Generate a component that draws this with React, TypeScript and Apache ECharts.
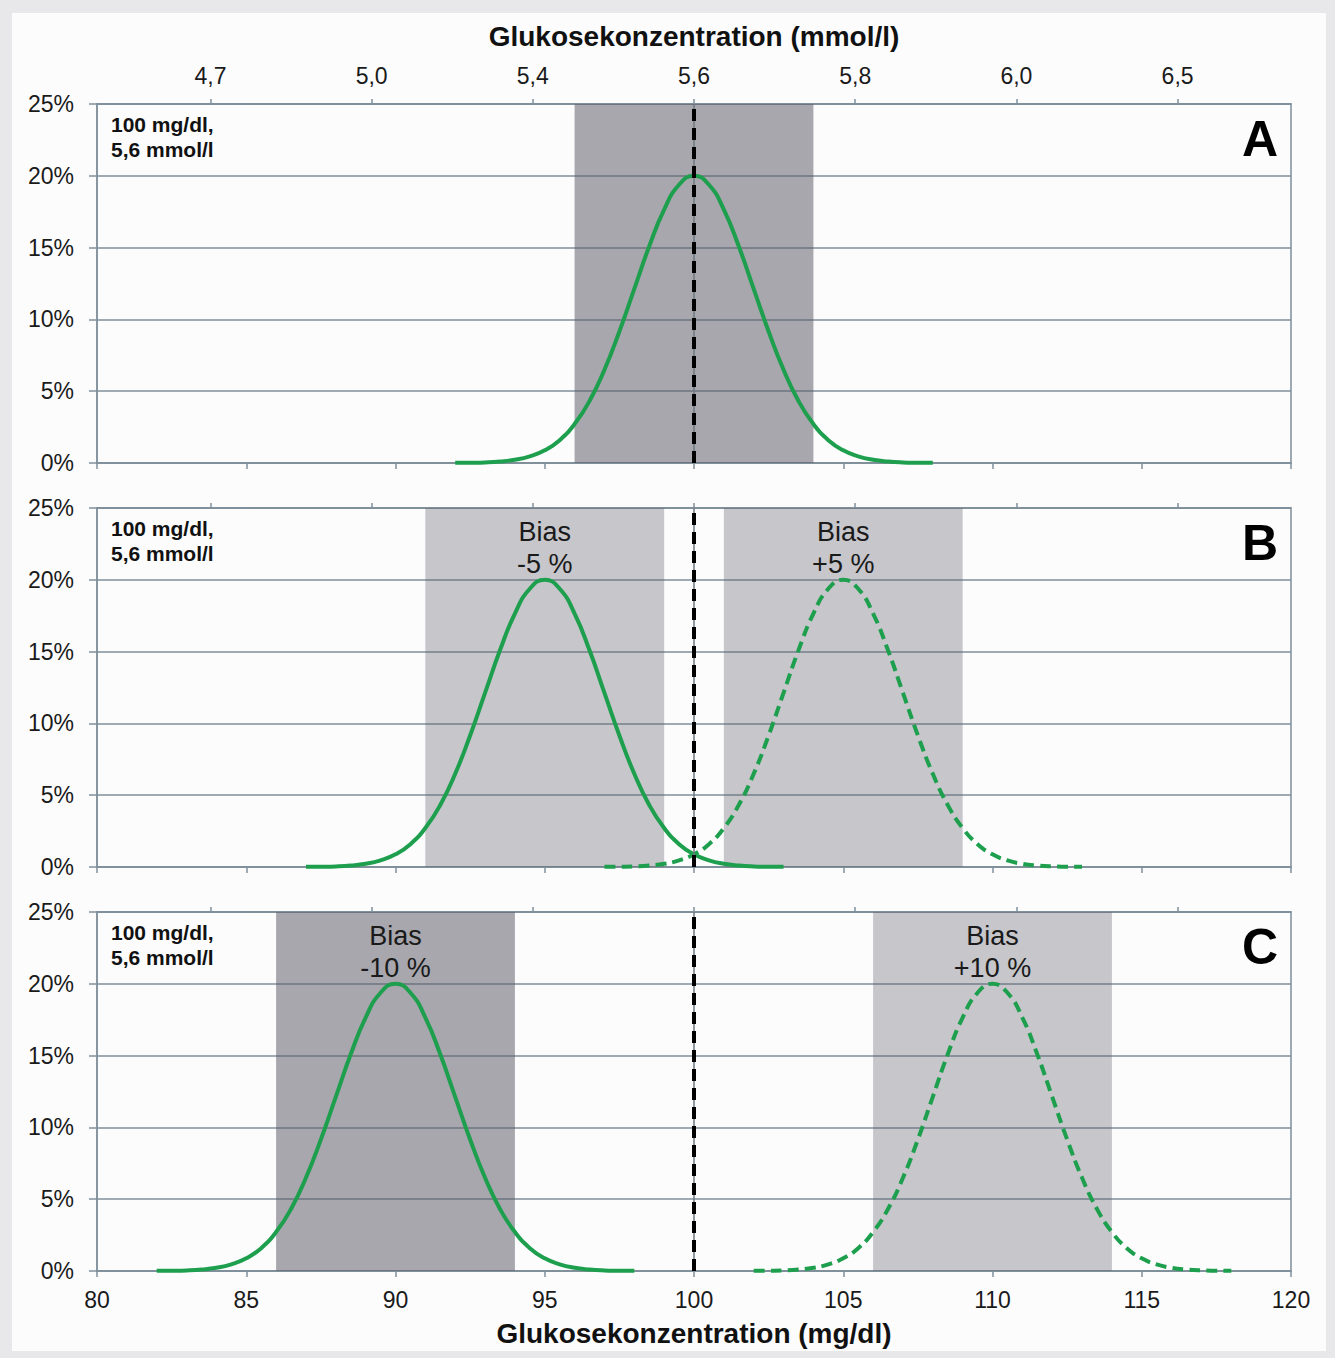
import React, { useEffect, useRef } from "react";
import * as echarts from "echarts";

// ---- data ----
const xMin = 80;
const xMax = 120;
const xInterval = 5;
const yMax = 25;
const yInterval = 5;

const topTickPositions = [83.8, 89.2, 94.6, 100, 105.4, 110.8, 116.2];
const topTickLabels = ["4,7", "5,0", "5,4", "5,6", "5,8", "6,0", "6,5"];

// shape of each distribution curve (offset from its mean in mg/dl, height in %)
const curveOffsets = [
  -8, -7.5, -7, -6.5, -6, -5.5, -5, -4.5, -4, -3.5, -3, -2.5, -2, -1.5, -1, -0.5,
  0, 0.5, 1, 1.5, 2, 2.5, 3, 3.5, 4, 4.5, 5, 5.5, 6, 6.5, 7, 7.5, 8,
];
const curveHeights = [
  0.01, 0.02, 0.04, 0.1, 0.22, 0.46, 0.88, 1.59, 2.71, 4.32, 6.49, 9.16, 12.13, 15.09, 17.65, 19.38,
  20.0, 19.38, 17.65, 15.09, 12.13, 9.16, 6.49, 4.32, 2.71, 1.59, 0.88, 0.46, 0.22, 0.1, 0.04, 0.02, 0.01,
];

const referenceValue = 100;

const panelLetters = ["A", "B", "C"];
const panelNote = "100 mg/dl,\n5,6 mmol/l";

const curveMeansA = [100];
const curveDashedA = [false];
const curveMeansB = [95, 105];
const curveDashedB = [false, true];
const curveMeansC = [90, 110];
const curveDashedC = [false, true];

const boxStartsA = [96];
const boxEndsA = [104];
const boxDarkA = [true];
const boxLabelsA = [""];

const boxStartsB = [91, 101];
const boxEndsB = [99, 109];
const boxDarkB = [false, false];
const boxLabelsB = ["Bias\n-5 %", "Bias\n+5 %"];

const boxStartsC = [86, 106];
const boxEndsC = [94, 114];
const boxDarkC = [true, false];
const boxLabelsC = ["Bias\n-10 %", "Bias\n+10 %"];

const topTitle = "Glukosekonzentration (mmol/l)";
const bottomTitle = "Glukosekonzentration (mg/dl)";

// ---- style ----
const FONT = "'Liberation Sans', Arial, Helvetica, sans-serif";
const GRID_COLOR = "#7f8f9b";
const GREEN = "#1d9f4e";
const DARK_BOX = "rgba(95,95,105,0.54)";
const LIGHT_BOX = "rgba(95,95,105,0.34)";

const panels = [
  { means: curveMeansA, dashed: curveDashedA, starts: boxStartsA, ends: boxEndsA, dark: boxDarkA, labels: boxLabelsA },
  { means: curveMeansB, dashed: curveDashedB, starts: boxStartsB, ends: boxEndsB, dark: boxDarkB, labels: boxLabelsB },
  { means: curveMeansC, dashed: curveDashedC, starts: boxStartsC, ends: boxEndsC, dark: boxDarkC, labels: boxLabelsC },
];

const gridTops = [104, 508, 912];
const gridLeft = 97;
const gridWidth = 1194;
const gridHeight = 359;

function buildOption() {
  const grid: any[] = [];
  const xAxis: any[] = [];
  const yAxis: any[] = [];
  const series: any[] = [];
  const graphic: any[] = [];

  panels.forEach((p, i) => {
    grid.push({
      left: gridLeft,
      top: gridTops[i],
      width: gridWidth,
      height: gridHeight,
      show: true,
      borderColor: GRID_COLOR,
      borderWidth: 1.5,
      backgroundColor: "transparent",
    });
    // bottom mg/dl axis
    xAxis.push({
      gridIndex: i,
      type: "value",
      position: "bottom",
      min: xMin,
      max: xMax,
      interval: xInterval,
      axisLine: { show: true, lineStyle: { color: GRID_COLOR, width: 1.5 } },
      axisTick: { show: true, length: 6, lineStyle: { color: GRID_COLOR, width: 1.5 } },
      axisLabel: {
        show: i === 2,
        fontSize: 23,
        color: "#1a1a1a",
        fontFamily: FONT,
        margin: 17,
      },
      splitLine: { show: false },
      name: i === 2 ? bottomTitle : "",
      nameLocation: "middle",
      nameGap: 48,
      nameTextStyle: { fontSize: 28, fontWeight: "bold", color: "#111", fontFamily: FONT },
    });
    // top mmol/l axis
    xAxis.push({
      gridIndex: i,
      type: "value",
      position: "top",
      min: xMin,
      max: xMax,
      axisLine: { show: true, lineStyle: { color: GRID_COLOR, width: 1.5 } },
      axisTick: {
        show: true,
        length: 5,
        customValues: topTickPositions,
        lineStyle: { color: GRID_COLOR, width: 1.5 },
      },
      axisLabel: {
        show: i === 0,
        customValues: topTickPositions,
        formatter: (v: number) => {
          const k = topTickPositions.findIndex((t) => Math.abs(t - v) < 1e-6);
          return k >= 0 ? topTickLabels[k] : "";
        },
        fontSize: 23,
        color: "#1a1a1a",
        fontFamily: FONT,
        margin: 17,
      },
      splitLine: { show: false },
      name: i === 0 ? topTitle : "",
      nameLocation: "middle",
      nameGap: 54,
      nameTextStyle: { fontSize: 28, fontWeight: "bold", color: "#111", fontFamily: FONT },
    });
    yAxis.push({
      gridIndex: i,
      type: "value",
      min: 0,
      max: yMax,
      interval: yInterval,
      axisLine: { show: true, lineStyle: { color: GRID_COLOR, width: 1.5 } },
      axisTick: { show: true, length: 8, lineStyle: { color: GRID_COLOR, width: 1.5 } },
      axisLabel: {
        formatter: "{value}%",
        fontSize: 23,
        color: "#1a1a1a",
        fontFamily: FONT,
        margin: 23,
      },
      splitLine: { show: true, lineStyle: { color: GRID_COLOR, width: 1.5 } },
    });

    const xIdx = i * 2;
    // shaded boxes
    series.push({
      type: "line",
      xAxisIndex: xIdx,
      yAxisIndex: i,
      data: [],
      silent: true,
      z: 1,
      markArea: {
        silent: true,
        data: p.starts.map((s, k) => [
          {
            xAxis: s,
            itemStyle: { color: p.dark[k] ? DARK_BOX : LIGHT_BOX },
            label: {
              show: p.labels[k] !== "",
              formatter: p.labels[k],
              position: "insideTop",
              distance: 8,
              fontSize: 27,
              lineHeight: 32,
              color: "#1a1a1a",
              fontFamily: FONT,
              align: "center",
            },
          },
          { xAxis: p.ends[k] },
        ]),
      },
    });
    // curves
    p.means.forEach((m, k) => {
      series.push({
        type: "line",
        xAxisIndex: xIdx,
        yAxisIndex: i,
        data: curveOffsets.map((o, j) => [m + o, curveHeights[j]]),
        smooth: true,
        showSymbol: false,
        symbol: "none",
        z: 3,
        lineStyle: {
          color: GREEN,
          width: 4,
          type: p.dashed[k] ? [11, 6] : "solid",
        },
      });
    });
    // reference line
    series.push({
      type: "line",
      xAxisIndex: xIdx,
      yAxisIndex: i,
      data: [],
      z: 5,
      markLine: {
        silent: true,
        symbol: "none",
        label: { show: false },
        data: [
          { xAxis: referenceValue, lineStyle: { color: "#6d7780", width: 1.5, type: "solid" } },
          { xAxis: referenceValue, lineStyle: { color: "#000", width: 4, type: [12, 7] } },
        ],
      },
    });

    graphic.push({
      type: "text",
      x: 111,
      y: gridTops[i] + 8,
      style: {
        text: panelNote,
        font: `bold 21px ${FONT}`,
        fill: "#111",
        lineHeight: 25,
      },
      z: 10,
    });
    graphic.push({
      type: "text",
      x: 1278,
      y: gridTops[i] + 35,
      style: {
        text: panelLetters[i],
        font: `bold 50px ${FONT}`,
        fill: "#000",
        align: "right",
        verticalAlign: "middle",
      },
      z: 10,
    });
  });

  return {
    animation: false,
    backgroundColor: "transparent",
    textStyle: { fontFamily: FONT },
    grid,
    xAxis,
    yAxis,
    series,
    graphic,
  };
}

export default function App() {
  const ref = useRef<HTMLDivElement>(null);
  useEffect(() => {
    if (!ref.current) return;
    const chart = echarts.init(ref.current, undefined, { renderer: "svg" });
    chart.setOption(buildOption() as any);
    return () => chart.dispose();
  }, []);
  return (
    <div
      style={{
        position: "absolute",
        left: 0,
        top: 0,
        width: 1335,
        height: 1358,
        background: "#e8e8ea",
      }}
    >
      <div
        style={{
          position: "absolute",
          left: 12,
          top: 13,
          width: 1314,
          height: 1338,
          background: "#fcfcfd",
        }}
      />
      <div ref={ref} style={{ position: "absolute", left: 0, top: 0, width: 1335, height: 1358 }} />
    </div>
  );
}
